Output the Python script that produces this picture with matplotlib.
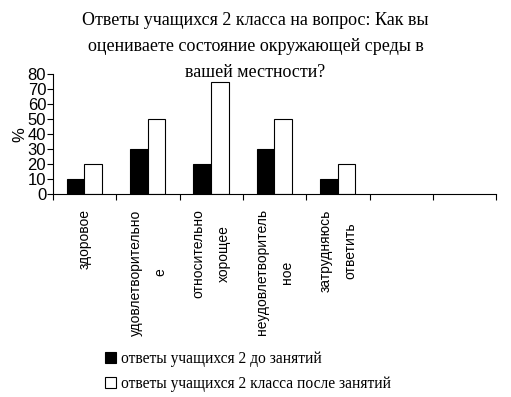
import matplotlib.pyplot as plt
import numpy as np

# данные
categories = ['здоровое', 'удовлетворительно\nе', 'относительно\nхорощее',
              'неудовлетворитель\nное', 'затрудняюсь\nответить', '', '']
before = [10, 30, 20, 30, 10]
after = [20, 50, 75, 50, 20]
series_names = ['ответы учащихся 2 до занятий',
                'ответы учащихся 2 класса после занятий']
title = 'Ответы учащихся 2 класса на вопрос: Как вы\nоцениваете состояние окружающей среды в\nвашей местности?'
yticks = [0, 10, 20, 30, 40, 50, 60, 70, 80]

fig = plt.figure(figsize=(5.11, 3.97), dpi=100)
ax = fig.add_axes([0.104, 0.5106, 0.867, 0.3024])

x = np.arange(len(before))
w = 0.28
b1 = ax.bar(x - 0.145, before, w, color='black', edgecolor='black', linewidth=0.8,
            label=series_names[0])
b2 = ax.bar(x + 0.135, after, w, color='white', edgecolor='black', linewidth=0.8,
            label=series_names[1])

ax.set_xlim(-0.5, len(categories) - 0.5)
ax.set_ylim(0, 80)
ax.set_yticks(yticks)
ax.set_yticklabels([str(v) for v in yticks], family='Liberation Sans', fontsize=12)
ax.tick_params(axis='y', length=4, pad=1)

# отметки на границах категорий, подписи по центру
ax.set_xticks(np.arange(len(categories) + 1) - 0.5)
ax.set_xticklabels([])
ax.tick_params(axis='x', length=4, direction='out')
for i, c in enumerate(categories):
    ax.text(i, -10, c, rotation=90, ha='center', va='top', multialignment='center',
            family='Liberation Sans', fontsize=10, linespacing=2.0)

for s in ['top', 'right']:
    ax.spines[s].set_visible(False)

ax.set_ylabel('%', family='Liberation Sans', fontsize=12, labelpad=0)
fig.text(0.5, 0.97, title, ha='center', va='top', family='Liberation Serif',
         fontsize=13, linespacing=1.68)

fig.legend(handles=[b1, b2], loc='upper left', bbox_to_anchor=(0.194, 0.132),
           frameon=False, prop={'family': 'Liberation Serif', 'size': 11.2},
           handlelength=0.7, handleheight=0.7, handletextpad=0.3, labelspacing=0.6,
           borderaxespad=0)

fig.savefig('out.png', dpi=100)
